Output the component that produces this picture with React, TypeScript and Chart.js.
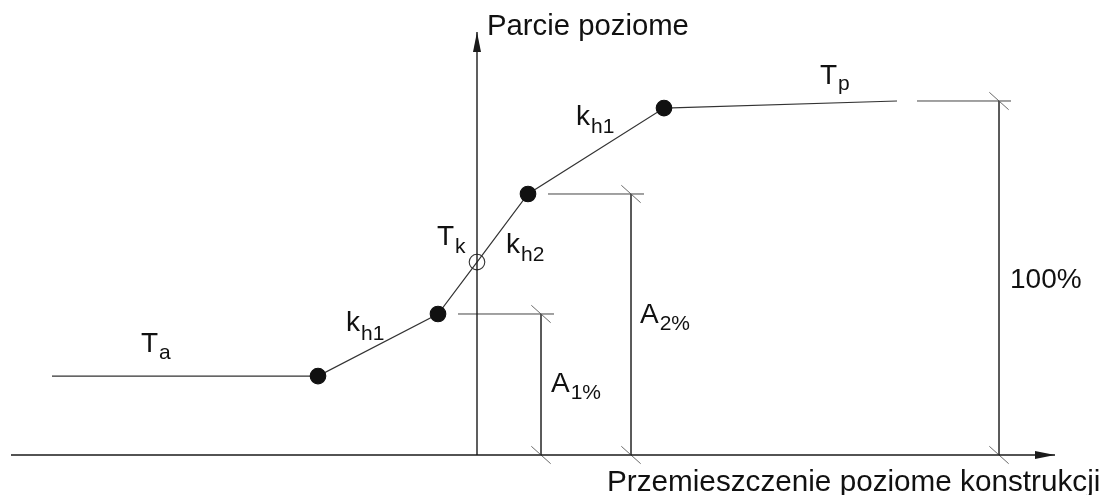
import React, { useEffect, useRef } from "react";
import { Chart, registerables } from "chart.js";
Chart.register(...registerables);

const W = 1106;
const H = 495;

// Value ranges: displacement (x, arbitrary units, 0 at the pressure axis),
// horizontal pressure (y, % of passive pressure Tp)
const X_MIN = -47.7;
const X_MAX = 62.9;
const Y_MIN = -11.3;
const Y_MAX = 128.53;

// Characteristic curve Ta – kh1 – Tk – kh2 – kh1 – Tp
const curveX = [-42.5, -15.9, -3.9, 0, 5.1, 18.7, 42.0];
const curveY = [22.3, 22.3, 39.83, 54.5, 73.73, 98.0, 100];
const curveMarker = ["none", "dot", "dot", "ring", "dot", "dot", "none"];

// Coordinate axes (with arrow heads at their last point)
const xAxisX = [-46.6, 57.8];
const xAxisY = [0, 0];
const yAxisX = [0, 0];
const yAxisY = [0, 119.5];

// Dimension lines A1%, A2%, 100%
const dimLevel = [39.83, 73.73, 100];
const dimX = [6.4, 15.4, 52.2];
const extFrom = [-1.9, 7.1, 44.0];
const extTo = [7.7, 16.7, 53.4];

// Text labels (main text + subscript), anchored in data units
const labelMain = ["Parcie poziome", "Przemieszczenie poziome konstrukcji", "100%", "T", "k", "T", "k", "k", "T", "A", "A"];
const labelSub = ["", "", "", "a", "h1", "k", "h2", "h1", "p", "1%", "2%"];
const labelX = [1.0, 13.0, 53.3, -33.6, -13.1, -4.0, 2.9, 9.9, 34.3, 7.4, 16.3];
const labelY = [118.64, -10.17, 47.18, 29.1, 35.03, 59.32, 57.06, 93.22, 104.8, 17.8, 37.29];
const labelSize = [29.3, 29.7, 28, 28, 28, 28, 28, 28, 28, 28, 28];
const labelSubDrop = [0, 0, 0, 7, 9, 8, 8, 8, 6, 7, 7];

const FONT = '"Liberation Sans", Arial, Helvetica, sans-serif';
const SUB_SIZE = 21;
const TEXT = "#111111";
const LINE = "#333333";
const AXIS = "#1a1a1a";
const DIM = "#444444";
const TICK = "#6a6a6a";

const pts = (xs: number[], ys: number[]) => xs.map((x, i) => ({ x, y: ys[i] }));

const arrowPlugin = {
  id: "arrowHeads",
  afterDatasetsDraw(chart: any) {
    const ctx = chart.ctx;
    chart.data.datasets.forEach((ds: any, i: number) => {
      if (!ds.arrowHead) return;
      const meta = chart.getDatasetMeta(i);
      const n = meta.data.length;
      const a = meta.data[n - 2];
      const b = meta.data[n - 1];
      const dx = b.x - a.x;
      const dy = b.y - a.y;
      const L = Math.hypot(dx, dy) || 1;
      const ux = dx / L;
      const uy = dy / L;
      const len = 20;
      const half = 4;
      ctx.save();
      ctx.fillStyle = AXIS;
      ctx.beginPath();
      ctx.moveTo(b.x, b.y);
      ctx.lineTo(b.x - ux * len - uy * half, b.y - uy * len + ux * half);
      ctx.lineTo(b.x - ux * len + uy * half, b.y - uy * len - ux * half);
      ctx.closePath();
      ctx.fill();
      ctx.restore();
    });
  },
};

const labelPlugin = {
  id: "diagramLabels",
  afterDatasetsDraw(chart: any) {
    const { ctx } = chart;
    const xs = chart.scales.x;
    const ys = chart.scales.y;
    ctx.save();
    ctx.fillStyle = TEXT;
    ctx.textAlign = "left";
    ctx.textBaseline = "alphabetic";
    labelMain.forEach((t, i) => {
      const px = xs.getPixelForValue(labelX[i]);
      const py = ys.getPixelForValue(labelY[i]);
      ctx.font = `${labelSize[i]}px ${FONT}`;
      ctx.fillText(t, px, py);
      if (labelSub[i]) {
        const w = ctx.measureText(t).width;
        ctx.font = `${SUB_SIZE}px ${FONT}`;
        ctx.fillText(labelSub[i], px + w + 1, py + labelSubDrop[i]);
      }
    });
    ctx.restore();
  },
};

export default function App() {
  const ref = useRef<HTMLCanvasElement | null>(null);

  useEffect(() => {
    if (!ref.current) return;

    const datasets: any[] = [];

    // axes
    datasets.push({
      data: pts(xAxisX, xAxisY),
      borderColor: AXIS,
      borderWidth: 1.4,
      pointRadius: 0,
      arrowHead: true,
    });
    datasets.push({
      data: pts(yAxisX, yAxisY),
      borderColor: AXIS,
      borderWidth: 1.4,
      pointRadius: 0,
      arrowHead: true,
    });

    // dimension lines
    dimLevel.forEach((lv, i) => {
      datasets.push({
        data: pts([extFrom[i], extTo[i]], [lv, lv]),
        borderColor: DIM,
        borderWidth: 1,
        pointRadius: 0,
      });
      datasets.push({
        data: pts([dimX[i], dimX[i]], [lv, 0]),
        borderColor: DIM,
        borderWidth: 1,
        pointRadius: 13,
        pointStyle: "line",
        rotation: 42,
        pointBorderColor: TICK,
        pointBorderWidth: 1,
      });
    });

    // characteristic curve
    datasets.push({
      data: pts(curveX, curveY),
      borderColor: LINE,
      borderWidth: 1.2,
      pointStyle: "circle",
      pointRadius: curveMarker.map((m) => (m === "none" ? 0 : 7.8)),
      pointBackgroundColor: curveMarker.map((m) => (m === "dot" ? "#111111" : "rgba(0,0,0,0)")),
      pointBorderColor: curveMarker.map((m) => (m === "ring" ? "#333333" : "#111111")),
      pointBorderWidth: 1.1,
    });

    const chart = new Chart(ref.current, {
      type: "line",
      data: { datasets },
      options: {
        animation: false,
        responsive: false,
        events: [],
        layout: { padding: 0, autoPadding: false },
        elements: { line: { tension: 0, fill: false } },
        plugins: {
          legend: { display: false },
          title: { display: false },
          tooltip: { enabled: false },
        },
        scales: {
          x: { type: "linear", min: X_MIN, max: X_MAX, display: false },
          y: { type: "linear", min: Y_MIN, max: Y_MAX, display: false },
        },
      },
      plugins: [arrowPlugin, labelPlugin],
    } as any);

    return () => chart.destroy();
  }, []);

  return (
    <div style={{ position: "absolute", left: 0, top: 0, width: W, height: H, background: "#fff" }}>
      <canvas ref={ref} width={W} height={H} style={{ display: "block" }} />
    </div>
  );
}
